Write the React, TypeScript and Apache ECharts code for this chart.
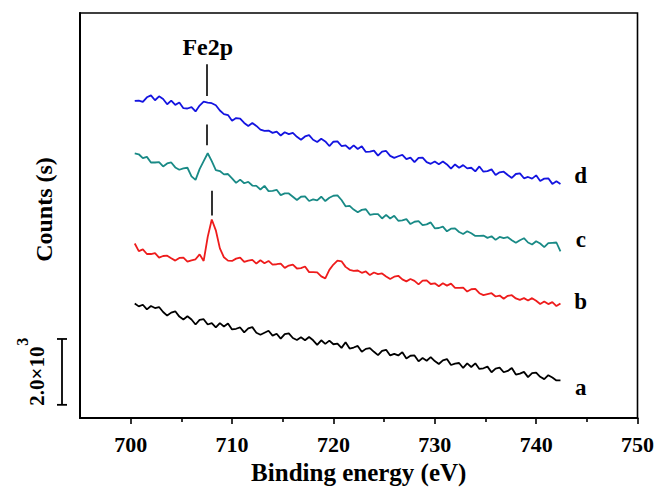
import React, { useEffect, useRef } from "react";
import * as echarts from "echarts";

// Binding-energy grid of the measured spectra (eV)
const energyStart = 700.4;
const energyStep = 0.4;

// Counts (curves offset vertically for display)
const seriesA = [
  3480, 3390, 3440, 3300, 3400, 3340, 3370, 3220, 3110, 3200,
  3240, 3080, 2990, 3090, 2990, 2840, 2980, 3000, 2840, 2880,
  2750, 2880, 2780, 2870, 2690, 2710, 2750, 2600, 2720, 2760,
  2590, 2530, 2590, 2650, 2500, 2560, 2410, 2550, 2570, 2430,
  2370, 2450, 2360, 2460, 2360, 2220, 2360, 2250, 2350, 2240,
  2260, 2130, 2300, 2110, 2140, 2190, 2010, 2100, 2120, 2010,
  1910, 2040, 2070, 1900, 1950, 1900, 2000, 1810, 1890, 1900,
  1720, 1820, 1740, 1850, 1730, 1640, 1750, 1790, 1610, 1650,
  1670, 1520, 1660, 1550, 1660, 1490, 1510, 1560, 1390, 1500,
  1530, 1390, 1430, 1520, 1320, 1350, 1400, 1240, 1360, 1380,
  1250, 1180, 1300, 1230, 1140, 1140,
];
const seriesB = [
  5300, 5070, 5120, 4980, 4980, 5010, 4870, 4920, 4930, 4850,
  4780, 4860, 4870, 4750, 4790, 4820, 4970, 4770, 5500, 6030,
  5700, 5150, 4880, 4780, 4770, 4840, 4870, 4740, 4780, 4800,
  4690, 4790, 4700, 4770, 4660, 4670, 4690, 4560, 4630, 4660,
  4540, 4550, 4600, 4430, 4430, 4420, 4300, 4240, 4500, 4660,
  4780, 4760, 4590, 4500, 4470, 4480, 4410, 4450, 4340, 4420,
  4370, 4390, 4300, 4220, 4290, 4320, 4210, 4150, 4220, 4165,
  4060, 4170, 4180, 4070, 4090, 4000, 4090, 4020, 4080, 3950,
  3950, 3960, 3840, 3910, 3920, 3790, 3730, 3760, 3790, 3690,
  3720, 3620, 3710, 3730, 3630, 3590, 3640, 3570, 3640, 3560,
  3460, 3540, 3460, 3520, 3400, 3480,
];
const seriesC = [
  8040, 8010, 7890, 7930, 7760, 7760, 7770, 7640, 7730, 7760,
  7610, 7540, 7580, 7600, 7340, 7230, 7560, 7800, 8040, 7800,
  7530, 7500, 7400, 7410, 7280, 7140, 7240, 7130, 7170, 7060,
  7050, 6940, 7050, 6890, 6900, 6930, 6770, 6820, 6820, 6720,
  6620, 6720, 6730, 6590, 6640, 6610, 6720, 6590, 6690, 6750,
  6760, 6620, 6430, 6440, 6330, 6250, 6320, 6340, 6170, 6190,
  6190, 6060, 6170, 6060, 6140, 5990, 6000, 6040, 5890, 5960,
  5980, 5860, 5880, 5940, 5760, 5770, 5810, 5670, 5750, 5760,
  5650, 5590, 5670, 5610, 5530, 5530, 5540, 5470, 5520, 5410,
  5500, 5460, 5490, 5400, 5320, 5400, 5460, 5330, 5270, 5370,
  5300, 5190, 5310, 5320, 5330, 5060,
];
const seriesD = [
  9630, 9640, 9600, 9740, 9800, 9650, 9770, 9690, 9530, 9640,
  9510, 9580, 9410, 9400, 9440, 9310, 9490, 9610, 9580, 9560,
  9500, 9340, 9230, 9200, 9030, 9110, 9090, 8960, 8870, 8960,
  8870, 8760, 8720, 8730, 8660, 8700, 8580, 8680, 8620, 8660,
  8540, 8450, 8550, 8590, 8450, 8380, 8480, 8400, 8260, 8390,
  8400, 8260, 8280, 8170, 8280, 8170, 8250, 8080, 8090, 8120,
  7970, 8090, 8110, 7960, 7900, 7950, 7990, 7860, 7910, 7770,
  7900, 7910, 7770, 7720, 7790, 7710, 7790, 7700, 7570, 7700,
  7600, 7680, 7580, 7600, 7490, 7640, 7480, 7500, 7550, 7380,
  7460, 7480, 7380, 7290, 7410, 7430, 7280, 7320, 7270, 7370,
  7200, 7270, 7280, 7110, 7190, 7110,
];

const curveNames = ["a", "b", "c", "d"];
const curveColors = ["#000000", "#ee1c1c", "#198a86", "#1414e0"];
// label anchors [energy, counts] for a, b, c, d
const curveLabelPos = [
  [744.4, 930],
  [744.4, 3540],
  [744.4, 5430],
  [744.4, 7350],
];

const xTickValues = [700, 710, 720, 730, 740, 750];
const xMinorTickValues = [705, 715, 725, 735, 745];

// Fe2p marker lines [energy, topCounts, bottomCounts]
const peakMarkers = [
  [707.5, 10740, 9780],
  [707.55, 8910, 8280],
  [707.95, 6900, 6150],
];
const peakLabel = "Fe2p";
const peakLabelPos = [707.6, 11280];

// scale bar: 2.0×10^3 counts
const scaleBarCounts = [400, 2400];

const FONT = "'Liberation Serif', 'Times New Roman', serif";

export default function App() {
  const ref = useRef<HTMLDivElement>(null);

  useEffect(() => {
    if (!ref.current) return;
    const chart = echarts.init(ref.current, undefined, { renderer: "svg" });
    const allSeries = [seriesA, seriesB, seriesC, seriesD];

    const textLabel = (text: string, size: number) => ({
      show: true,
      position: "inside",
      formatter: text,
      color: "#000",
      fontFamily: FONT,
      fontWeight: "bold",
      fontSize: size,
    });

    const series: any[] = allSeries.map((vals, k) => ({
      type: "line",
      name: curveNames[k],
      data: vals.map((v, i) => [+(energyStart + i * energyStep).toFixed(2), v]),
      showSymbol: false,
      symbol: "none",
      lineStyle: { color: curveColors[k], width: 1.8 },
      itemStyle: { color: curveColors[k] },
      z: 3,
      markPoint: {
        silent: true,
        symbol: "circle",
        symbolSize: 0,
        data: [{ coord: curveLabelPos[k], label: textLabel(curveNames[k], 23) }],
      },
    }));

    series[0].markLine = {
      silent: true,
      symbol: ["none", "none"],
      label: { show: false },
      lineStyle: { color: "#000", width: 1.6, type: "solid" },
      data: peakMarkers.map((m) => [{ coord: [m[0], m[1]] }, { coord: [m[0], m[2]] }]),
    };
    series[0].markPoint.data.push({ coord: peakLabelPos, label: textLabel(peakLabel, 24) });

    const option: any = {
      animation: false,
      backgroundColor: "#fff",
      grid: {
        left: 80,
        right: 19,
        top: 13,
        bottom: 67,
        show: true,
        borderColor: "#000",
        borderWidth: 1.6,
        backgroundColor: "transparent",
      },
      xAxis: [
        {
          type: "value",
          min: 695,
          max: 750,
          name: "Binding energy (eV)",
          nameLocation: "middle",
          nameGap: 42,
          nameTextStyle: {
            color: "#000",
            fontFamily: FONT,
            fontWeight: "bold",
            fontSize: 25,
          },
          axisLine: { show: true, lineStyle: { color: "#000", width: 2 } },
          axisTick: {
            show: true,
            length: 6,
            inside: false,
            customValues: xTickValues,
            lineStyle: { color: "#000", width: 1.6 },
          },
          axisLabel: {
            show: true,
            customValues: xTickValues,
            margin: 15,
            color: "#000",
            fontFamily: FONT,
            fontWeight: "bold",
            fontSize: 22,
          },
          splitLine: { show: false },
        },
        {
          type: "value",
          min: 695,
          max: 750,
          position: "bottom",
          axisLine: { show: false },
          axisTick: {
            show: true,
            length: 4,
            inside: false,
            customValues: xMinorTickValues,
            lineStyle: { color: "#000", width: 1.6 },
          },
          axisLabel: { show: false },
          splitLine: { show: false },
        },
      ],
      yAxis: {
        type: "value",
        min: 0,
        max: 12300,
        name: "Counts (s)",
        nameLocation: "middle",
        nameGap: 24,
        nameTextStyle: {
          color: "#000",
          fontFamily: FONT,
          fontWeight: "bold",
          fontSize: 24,
          padding: [0, 0, 0, 12],
        },
        axisLine: { show: true, lineStyle: { color: "#000", width: 2 } },
        axisTick: { show: false },
        axisLabel: { show: false },
        splitLine: { show: false },
      },
      series,
    };

    chart.setOption(option);

    const yTop = chart.convertToPixel({ yAxisIndex: 0 }, scaleBarCounts[1]) as number;
    const yBot = chart.convertToPixel({ yAxisIndex: 0 }, scaleBarCounts[0]) as number;
    const bx = 62;
    const lineStyle = { stroke: "#000", lineWidth: 1.8 };
    chart.setOption({
      graphic: [
        { type: "line", shape: { x1: bx, y1: yTop, x2: bx, y2: yBot }, style: lineStyle, silent: true },
        { type: "line", shape: { x1: bx - 5, y1: yTop, x2: bx + 5, y2: yTop }, style: lineStyle, silent: true },
        { type: "line", shape: { x1: bx - 5, y1: yBot, x2: bx + 5, y2: yBot }, style: lineStyle, silent: true },
        {
          type: "group",
          x: 37,
          y: yBot + 1,
          rotation: Math.PI / 2,
          silent: true,
          children: [
            {
              type: "text",
              x: 0,
              y: 0,
              style: {
                text: "2.0×10",
                fill: "#000",
                font: `bold 21px ${FONT}`,
                align: "left",
                verticalAlign: "middle",
              },
            },
            {
              type: "text",
              x: 60,
              y: -15,
              style: {
                text: "3",
                fill: "#000",
                font: `bold 16px ${FONT}`,
                align: "left",
                verticalAlign: "middle",
              },
            },
          ],
        },
      ],
    });

    return () => chart.dispose();
  }, []);

  return (
    <div
      ref={ref}
      style={{ position: "fixed", left: 0, top: 0, width: 657, height: 490, background: "#fff" }}
    />
  );
}
